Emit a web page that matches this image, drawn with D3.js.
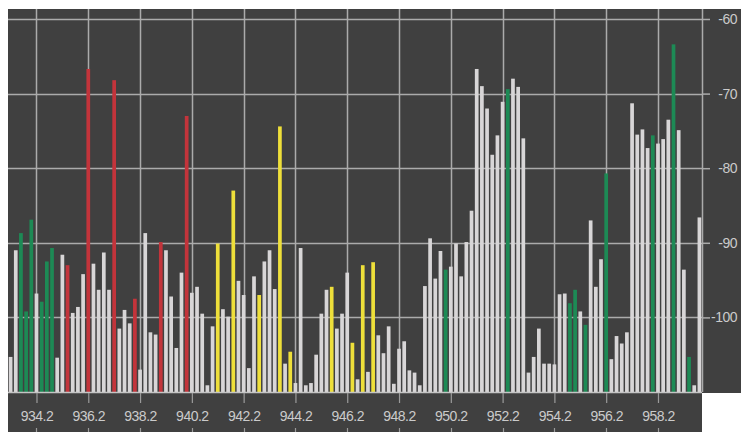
<!DOCTYPE html>
<html><head><meta charset="utf-8">
<script src="https://cdn.jsdelivr.net/npm/d3@7"></script>
<style>html,body{margin:0;padding:0;background:#fff;overflow:hidden}</style>
</head><body><svg id="c" width="741" height="432"></svg>
<script>
const freqs = [
933.2,933.4,933.6,933.8,934.0,934.2,934.4,934.6,934.8,935.0,
935.2,935.4,935.6,935.8,936.0,936.2,936.4,936.6,936.8,937.0,
937.2,937.4,937.6,937.8,938.0,938.2,938.4,938.6,938.8,939.0,
939.2,939.4,939.6,939.8,940.0,940.2,940.4,940.6,940.8,941.0,
941.2,941.4,941.6,941.8,942.0,942.2,942.4,942.6,942.8,943.0,
943.2,943.4,943.6,943.8,944.0,944.2,944.4,944.6,944.8,945.0,
945.2,945.4,945.6,945.8,946.0,946.2,946.4,946.6,946.8,947.0,
947.2,947.4,947.6,947.8,948.0,948.2,948.4,948.6,948.8,949.0,
949.2,949.4,949.6,949.8,950.0,950.2,950.4,950.6,950.8,951.0,
951.2,951.4,951.6,951.8,952.0,952.2,952.4,952.6,952.8,953.0,
953.2,953.4,953.6,953.8,954.0,954.2,954.4,954.6,954.8,955.0,
955.2,955.4,955.6,955.8,956.0,956.2,956.4,956.6,956.8,957.0,
957.2,957.4,957.6,957.8,958.0,958.2,958.4,958.6,958.8,959.0,
959.2,959.4,959.6,959.8];

const levels = [
-105.3,-91.0,-88.7,-99.2,-86.9,-96.8,-97.9,-92.5,-90.7,-105.4,
-91.6,-93.0,-99.4,-98.6,-94.2,-66.7,-92.8,-96.3,-91.3,-96.3,
-68.2,-101.5,-99.0,-100.8,-97.5,-107.0,-88.7,-102.0,-102.3,-89.9,
-91.0,-97.2,-104.1,-94.0,-73.0,-96.7,-95.9,-99.5,-109.1,-101.2,
-90.1,-98.9,-99.9,-83.0,-95.1,-97.0,-106.8,-94.5,-97.0,-92.5,
-91.0,-96.2,-74.4,-106.2,-104.6,-108.8,-90.7,-109.1,-108.8,-105.0,
-99.5,-96.3,-95.9,-101.5,-99.5,-94.0,-103.4,-108.3,-93.0,-107.3,
-92.6,-102.4,-104.8,-101.2,-108.9,-104.2,-103.2,-107.1,-107.4,-109.1,
-95.8,-89.4,-94.8,-91.1,-93.6,-93.2,-90.1,-94.5,-89.9,-85.7,
-66.7,-69.0,-72.0,-78.2,-75.6,-71.1,-69.4,-68.0,-69.1,-76.0,
-107.4,-105.3,-101.5,-106.2,-106.2,-106.3,-96.9,-96.8,-98.1,-96.3,
-99.2,-101.0,-87.0,-95.9,-92.2,-80.7,-105.6,-102.5,-103.5,-102.0,
-71.3,-75.5,-74.8,-77.3,-75.6,-76.7,-76.1,-73.5,-63.4,-74.9,
-93.6,-105.3,-109.1,-86.6];

const kinds = [
"w","w","g","g","g","w","g","g","g","w",
"w","r","w","w","w","r","w","w","w","w",
"r","w","w","w","r","w","w","w","w","r",
"w","w","w","w","r","w","w","w","w","w",
"y","w","w","y","w","w","w","w","y","w",
"w","w","y","w","y","w","w","w","w","w",
"w","w","y","w","w","w","y","w","y","w",
"y","w","w","w","w","w","w","w","w","w",
"w","w","w","w","g","w","w","w","w","w",
"w","w","w","w","w","w","g","w","w","w",
"w","w","w","w","w","w","w","w","g","g",
"w","g","w","w","w","g","w","w","w","w",
"w","w","w","w","g","w","w","w","g","w",
"w","g","w","w"];

const xTickValues = [934.2,936.2,938.2,940.2,942.2,944.2,946.2,948.2,950.2,952.2,954.2,956.2,958.2];
const xTickLabels = ["934.2","936.2","938.2","940.2","942.2","944.2","946.2","948.2","950.2","952.2","954.2","956.2","958.2"];
const yTickValues = [-60,-70,-80,-90,-100];
const yTickLabels = ["-60","-70","-80","-90","-100"];

const kindColor = {w:"#d8d6d7", g:"#1d8a55", r:"#c3343b", y:"#eedf3a"};

const plot = {left:8, right:702, top:9, bottom:392};
const svg = d3.select("#c");

svg.append("rect").attr("x",8).attr("y",9).attr("width",733).attr("height",423).attr("fill","#404040");
svg.append("rect").attr("x",plot.right).attr("y",plot.bottom+1).attr("width",741-plot.right).attr("height",432-plot.bottom).attr("fill","#ffffff");

const x = d3.scaleLinear().domain([933.1, 959.9]).range([plot.left, plot.right]);
const y = d3.scaleLinear().domain([-110, -58.66]).range([plot.bottom, plot.top]);

const gridColor = "#ababab";
svg.append("g").selectAll("line").data(xTickValues.concat([x.domain()[1]])).join("line")
  .attr("x1", d => Math.round(x(d))+0.5).attr("x2", d => Math.round(x(d))+0.5)
  .attr("y1", plot.top).attr("y2", plot.bottom)
  .attr("stroke", gridColor).attr("stroke-width", 1.5);
svg.append("g").selectAll("line").data(yTickValues).join("line")
  .attr("x1", plot.left).attr("x2", plot.right)
  .attr("y1", d => Math.round(y(d))+0.5).attr("y2", d => Math.round(y(d))+0.5)
  .attr("stroke", gridColor).attr("stroke-width", 1.5);

const bw = 3.7;
svg.append("g").selectAll("rect").data(freqs).join("rect")
  .attr("x", (d,i) => x(d) - bw/2)
  .attr("y", (d,i) => y(levels[i]))
  .attr("width", bw)
  .attr("height", (d,i) => y(-110) - y(levels[i]))
  .attr("fill", (d,i) => kindColor[kinds[i]]);

svg.append("line").attr("x1",plot.left).attr("x2",plot.right)
  .attr("y1",plot.bottom+0.5).attr("y2",plot.bottom+0.5)
  .attr("stroke","#c4c4c4").attr("stroke-width",1.5);

const xAxis = d3.axisBottom(x).tickValues(xTickValues)
  .tickFormat((d,i) => xTickLabels[i]).tickSize(10).tickPadding(8);
const gx = svg.append("g").attr("transform", `translate(0,${plot.bottom+1})`).call(xAxis);
gx.select(".domain").remove();
gx.selectAll(".tick line").attr("stroke","#9a9a9a").attr("stroke-width",1.2);
gx.selectAll(".tick text").attr("fill","#cbcbcb").attr("font-size","14px")
  .attr("letter-spacing","-0.5px")
  .attr("font-family","'Liberation Sans', Arial, sans-serif");
svg.append("g").selectAll("line").data(xTickValues).join("line")
  .attr("x1", d => Math.round(x(d))+0.5).attr("x2", d => Math.round(x(d))+0.5)
  .attr("y1", 428).attr("y2", 432).attr("stroke","#9a9a9a").attr("stroke-width",1.2);

const yAxis = d3.axisRight(y).tickValues(yTickValues)
  .tickFormat((d,i) => yTickLabels[i]).tickSize(8);
const gy = svg.append("g").attr("transform", `translate(${plot.right},0)`).call(yAxis);
gy.select(".domain").remove();
gy.selectAll(".tick line").attr("stroke", gridColor).attr("stroke-width",1.5);
gy.selectAll(".tick text").attr("fill","#cbcbcb").attr("font-size","14px")
  .attr("letter-spacing","-0.5px")
  .attr("font-family","'Liberation Sans', Arial, sans-serif")
  .attr("text-anchor","end").attr("x", 35);
</script>
</body></html>
